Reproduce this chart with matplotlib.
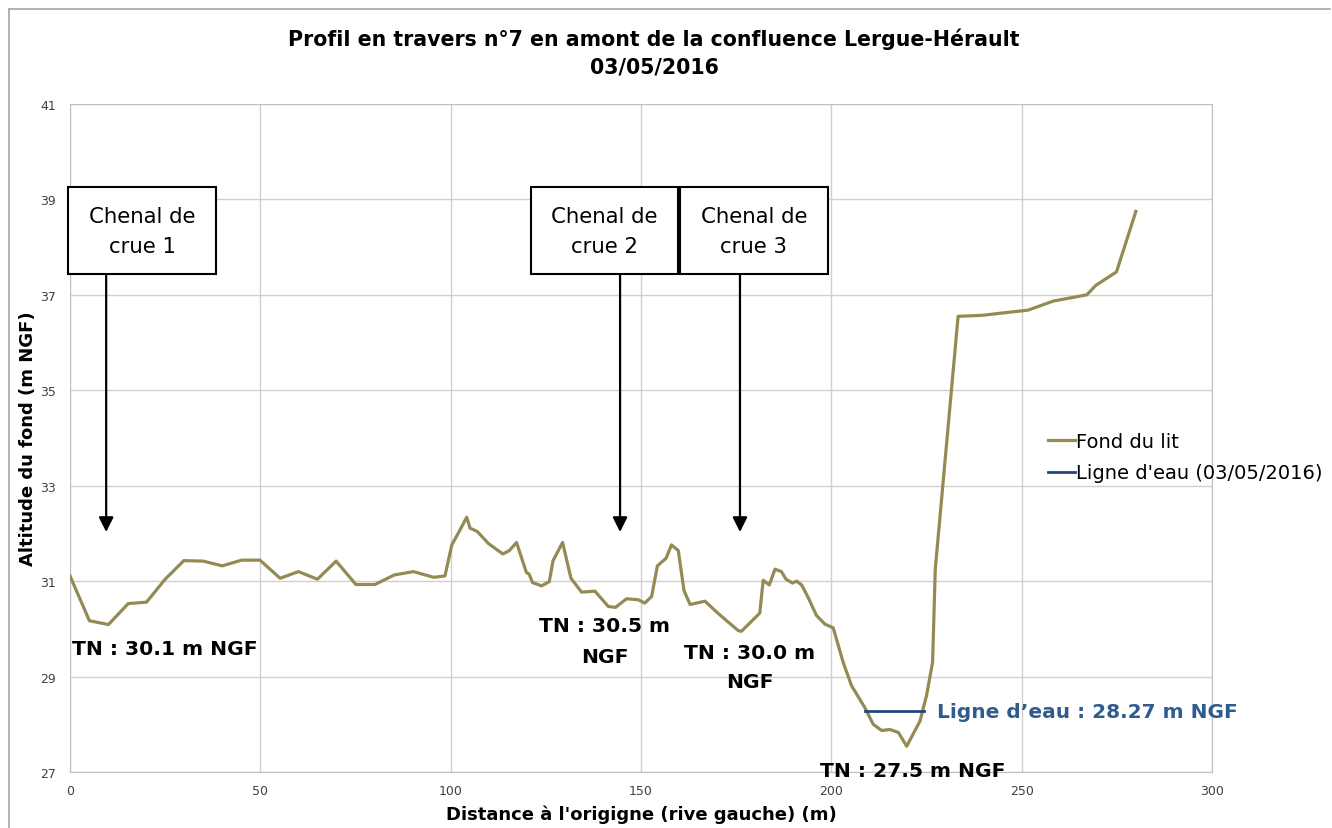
import matplotlib.pyplot as plt
from matplotlib.patches import Rectangle
from matplotlib.lines import Line2D

# Profil du fond du lit (distance depuis la rive gauche, altitude m NGF)
x_fond = [0, 5.1, 10.1, 15.3, 20.1, 25.0, 29.9, 35.0, 40.0, 45.1, 49.9, 55.2, 60.0,
          65.0, 69.9, 75.1, 80.1, 85.2, 90.2, 95.6, 98.5, 100.3, 102.3, 104.2, 105.1,
          107.0, 109.9, 113.7, 115.4, 117.3, 119.9, 120.6, 121.5, 123.9, 125.9, 126.9,
          129.4, 131.6, 134.4, 137.9, 141.4, 143.3, 146.2, 149.3, 151.0, 152.8, 154.3,
          156.6, 158.0, 159.8, 161.3, 162.9, 166.8, 169.9, 172.5, 175.6, 176.4, 181.2,
          182.1, 183.7, 185.2, 186.9, 188.1, 189.8, 190.9, 192.2, 193.9, 196.1, 198.3,
          200.5, 203.1, 205.3, 208.8, 211.0, 213.2, 215.4, 217.6, 219.8, 223.3, 225.0,
          226.6, 227.3, 233.3, 239.5, 251.7, 258.3, 267.1, 269.5, 274.9, 280.0]
z_fond = [31.11, 30.17, 30.09, 30.53, 30.56, 31.04, 31.43, 31.42, 31.32, 31.44, 31.44,
          31.06, 31.20, 31.04, 31.42, 30.93, 30.93, 31.13, 31.20, 31.08, 31.11, 31.76,
          32.05, 32.34, 32.11, 32.04, 31.79, 31.57, 31.64, 31.81, 31.18, 31.15, 30.97,
          30.90, 30.99, 31.43, 31.81, 31.06, 30.77, 30.79, 30.47, 30.45, 30.63, 30.61,
          30.54, 30.68, 31.32, 31.48, 31.76, 31.64, 30.80, 30.51, 30.58, 30.35, 30.17,
          29.96, 29.95, 30.33, 31.02, 30.92, 31.25, 31.20, 31.04, 30.96, 31.00, 30.92,
          30.66, 30.28, 30.10, 30.02, 29.30, 28.81, 28.35, 28.00, 27.87, 27.89, 27.83,
          27.54, 28.07, 28.60, 29.30, 31.25, 36.55, 36.57, 36.68, 36.87, 37.00, 37.20,
          37.48, 38.75]

# Ligne d'eau du 03/05/2016
x_eau = [208.8, 224.3]
z_eau = [28.27, 28.27]

# Chenaux de crue : position de la fleche et limites de la boite
chenal_labels = ["Chenal de\ncrue 1", "Chenal de\ncrue 2", "Chenal de\ncrue 3"]
chenal_x = [9.5, 144.5, 176.0]
box_left = [-0.5, 121.1, 160.2]
box_right = [38.4, 159.7, 199.1]

x_ticks = [0, 50, 100, 150, 200, 250, 300]
y_ticks = [27, 29, 31, 33, 35, 37, 39, 41]

olive = '#948A54'
bleu = '#1F497D'
bleu_txt = '#2F5B8F'

fig = plt.figure(figsize=(13.32, 8.29), dpi=100)
W, H = 1332, 829
ax = fig.add_axes([70 / W, 1 - 773 / H, (1212 - 70) / W, (773 - 105) / H])

ax.plot(x_fond, z_fond, color=olive, lw=2.3, label='Fond du lit', zorder=3)
ax.plot(x_eau, z_eau, color=bleu, lw=2.0, label="Ligne d'eau (03/05/2016)", zorder=3)

ax.set_xlim(0, 300)
ax.set_ylim(27, 41)
ax.set_xticks(x_ticks)
ax.set_yticks(y_ticks)
ax.grid(True, color='#D0D0D0', lw=1.0)
ax.set_axisbelow(True)
for s in ax.spines.values():
    s.set_color('#C0C0C0')
ax.tick_params(length=0, labelsize=9, labelcolor='#404040')
ax.tick_params(axis='x', pad=9)
ax.tick_params(axis='y', pad=10)

ax.set_xlabel("Distance à l'origigne (rive gauche) (m)", fontsize=13, fontweight='bold',
              labelpad=5)
ax.set_ylabel("Altitude du fond (m NGF)", fontsize=13, fontweight='bold', labelpad=2)

fig.text(654 / W, 1 - 53 / H,
         "Profil en travers n°7 en amont de la confluence Lergue-Hérault\n03/05/2016",
         ha='center', va='center', fontsize=14.8, fontweight='bold', linespacing=1.45)

# boites et fleches des chenaux de crue
for lab, xa, bl, br in zip(chenal_labels, chenal_x, box_left, box_right):
    ax.add_patch(Rectangle((bl, 37.44), br - bl, 39.26 - 37.44, facecolor='white',
                           edgecolor='black', lw=1.5, zorder=5, clip_on=False))
    ax.text((bl + br) / 2, 38.33, lab, ha='center', va='center', fontsize=15.3,
            linespacing=1.62, zorder=6)
    ax.annotate('', xy=(xa, 32.03), xytext=(xa, 37.44),
                arrowprops=dict(arrowstyle='-|>', color='black', lw=1.6,
                                mutation_scale=22, shrinkA=0, shrinkB=0), zorder=4)

lab_kw = dict(fontsize=14.6, fontweight='bold', zorder=6, clip_on=False)
ax.text(0.5, 29.58, "TN : 30.1 m NGF", ha='left', va='center', **lab_kw)
ax.text(140.5, 29.74, "TN : 30.5 m\nNGF", ha='center', va='center', linespacing=1.8, **lab_kw)
ax.text(178.6, 29.2, "TN : 30.0 m\nNGF", ha='center', va='center', linespacing=1.7, **lab_kw)
ax.text(197.0, 27.04, "TN : 27.5 m NGF", ha='left', va='center', **lab_kw)
ax.text(227.7, 28.26, "Ligne d’eau : 28.27 m NGF", ha='left', va='center',
        color=bleu_txt, fontsize=14.5, fontweight='bold', zorder=6)

fig.legend(loc='upper left', bbox_to_anchor=(1040 / W, 1 - 425 / H), frameon=False,
           fontsize=14, handlelength=1.4, handletextpad=0.05, labelspacing=0.65,
           borderaxespad=0)

# cadre gris du graphique
fig.add_artist(Line2D([9 / W, 9 / W], [0, 1 - 10 / H], color='#A6A6A6', lw=1.2))
fig.add_artist(Line2D([9 / W, 1330 / W], [1 - 10 / H, 1 - 10 / H], color='#A6A6A6', lw=1.2))

fig.savefig('out.png', dpi=100)
